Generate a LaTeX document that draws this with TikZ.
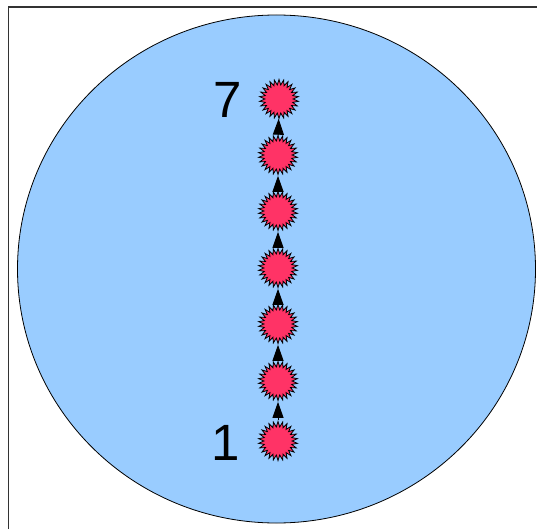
\documentclass[tikz,border=0pt]{standalone}
\usepackage{fontspec}
\setmainfont{Liberation Sans}
\usetikzlibrary{shapes.geometric,arrows.meta}
\definecolor{cellblue}{HTML}{99CCFF}
\definecolor{starred}{HTML}{FF3366}
\tikzset{
  spiky/.style={star, star points=26, star point ratio=1.38, minimum size=39pt, inner sep=0pt, fill=starred, draw=black, line width=0.8pt},
  link/.style={draw=black, line width=0.9pt, -{Triangle[length=16pt,width=11pt]}},
  biglabel/.style={font=\fontsize{51}{51}\selectfont, inner sep=0pt}
}
\begin{document}
\begin{tikzpicture}[x=1pt,y=-1pt]
\useasboundingbox (0,0) rectangle (537,529);
\draw[draw=black!80, line width=1.1pt] (8.5,529) -- (8.5,7) -- (537,7);
\node[ellipse, draw=black, line width=0.8pt, fill=cellblue, minimum width=518pt, minimum height=508pt, inner sep=0pt] (cell) at (276.5,269) {};
\node[spiky] (s1) at (278,441) {};
\node[spiky] (s2) at (278,381) {};
\node[spiky] (s3) at (278,324) {};
\node[spiky] (s4) at (278,268) {};
\node[spiky] (s5) at (278,211) {};
\node[spiky] (s6) at (278,155) {};
\node[spiky] (s7) at (279,99) {};
\foreach \a/\b in {s1/s2,s2/s3,s3/s4,s4/s5,s5/s6,s6/s7}
  \draw[link] (\a) -- (\b);
\node[biglabel] (l7) at (228,100) {7};
\node[biglabel] (l1) at (226,443) {1};
\end{tikzpicture}
\end{document}
